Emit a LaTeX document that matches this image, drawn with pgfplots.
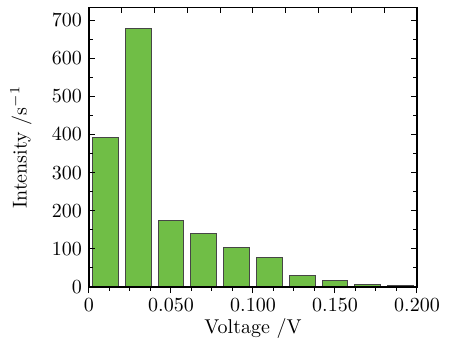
\documentclass[border=0pt]{standalone}
\usepackage{pgfplots}
\pgfplotsset{compat=1.18}
\definecolor{barg}{RGB}{112,190,70}
\definecolor{edge}{RGB}{70,70,70}
\begin{document}
\begin{tikzpicture}
\useasboundingbox (-44.5pt,-26pt) rectangle (183.5pt,143.5pt);
\begin{axis}[
  at={(0,0)}, anchor=south west,
  scale only axis, width=164pt, height=139.75pt,
  xmin=0, xmax=0.2, ymin=0, ymax=733,
  axis on top,
  xtick={0,0.05,0.1,0.15,0.2},
  xticklabels={0,0.050,0.100,0.150,0.200},
  xtick pos=bottom,
  minor x tick num=3,
  ytick={0,100,...,700},
  minor y tick num=1,
  ytick pos=both,
  major tick length=3pt, minor tick length=1.8pt,
  tick align=inside,
  tick style={black, line width=0.5pt},
  axis line style={black, line width=0.6pt},
  ticklabel style={font=\normalsize},
  xticklabel style={yshift=1pt},
  scaled x ticks=false,
  xlabel={Voltage /V},
  ylabel={Intensity /s$^{-1}$},
  xlabel style={at={(axis description cs:0.5,0)}, anchor=center, yshift=-20.5pt},
  ylabel style={at={(axis description cs:0,0.5)}, anchor=center, rotate=0, xshift=0pt, yshift=34pt},
  ybar, bar width=0.0158, bar shift=0pt,
]
\addplot[fill=barg, draw=edge, line width=0.5pt] coordinates {
(0.01,393) (0.03,679) (0.05,174) (0.07,140) (0.09,103)
(0.11,78) (0.13,30) (0.15,18) (0.17,7) (0.19,3)
};
\end{axis}
\begin{axis}[
  at={(0,0)}, anchor=south west,
  scale only axis, width=164pt, height=139.75pt,
  xmin=0, xmax=0.2, ymin=0, ymax=733,
  xtick={0,0.02,...,0.2}, xticklabels={},
  xtick pos=top, ytick=\empty,
  major tick length=3pt, tick align=inside,
  tick style={black, line width=0.5pt},
  axis line style={black, line width=0.6pt},
]
\end{axis}
\end{tikzpicture}
\end{document}
